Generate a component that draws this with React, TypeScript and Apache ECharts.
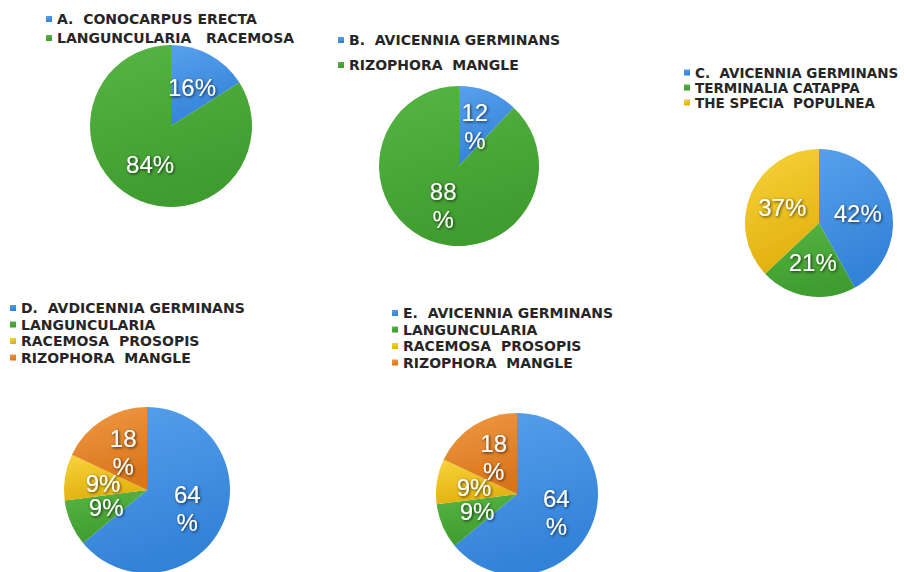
import React, { useEffect, useRef } from "react";
import * as echarts from "echarts";

// ---- data ----
const namesA = ["A.  CONOCARPUS ERECTA", "LANGUNCULARIA   RACEMOSA"];
const valuesA = [16, 84];
const namesB = ["B.  AVICENNIA GERMINANS", "RIZOPHORA  MANGLE"];
const valuesB = [12, 88];
const namesC = ["C.  AVICENNIA GERMINANS", "TERMINALIA CATAPPA", "THE SPECIA  POPULNEA"];
const valuesC = [42, 21, 37];
const namesD = ["D.  AVDICENNIA GERMINANS", "LANGUNCULARIA", "RACEMOSA  PROSOPIS", "RIZOPHORA  MANGLE"];
const valuesD = [64, 9, 9, 18];
const namesE = ["E.  AVICENNIA GERMINANS", "LANGUNCULARIA", "RACEMOSA  PROSOPIS", "RIZOPHORA  MANGLE"];
const valuesE = [64, 9, 9, 18];

// ---- styles ----
const grad = (top: string, bottom: string) =>
  new echarts.graphic.LinearGradient(0, 0, 0.3, 1, [
    { offset: 0, color: top },
    { offset: 1, color: bottom },
  ]);
const BLUE = ["#58a0ec", "#3282d8"];
const GREEN = ["#56b543", "#3f9c2f"];
const YELLOW = ["#f8d43c", "#e2b10f"];
const ORANGE = ["#f09a45", "#d9761c"];

type Panel = {
  names: string[];
  values: number[];
  colors: string[][];
  center: [number, number];
  radius: number;
  legend: { left: number; top: number; fontSize: number; lineHeight: number; itemGap: number };
  wrapTwoDigit: boolean;
};

const panels: Panel[] = [
  {
    names: namesA, values: valuesA, colors: [BLUE, GREEN],
    center: [171, 126], radius: 81,
    legend: { left: 46, top: 10, fontSize: 14, lineHeight: 18, itemGap: 1 },
    wrapTwoDigit: false,
  },
  {
    names: namesB, values: valuesB, colors: [BLUE, GREEN],
    center: [459, 166], radius: 80,
    legend: { left: 338, top: 31, fontSize: 14, lineHeight: 18, itemGap: 7 },
    wrapTwoDigit: true,
  },
  {
    names: namesC, values: valuesC, colors: [BLUE, GREEN, YELLOW],
    center: [819, 223], radius: 74,
    legend: { left: 684, top: 65, fontSize: 13.5, lineHeight: 15, itemGap: 0 },
    wrapTwoDigit: false,
  },
  {
    names: namesD, values: valuesD, colors: [BLUE, GREEN, YELLOW, ORANGE],
    center: [147, 490], radius: 83,
    legend: { left: 10, top: 300, fontSize: 14, lineHeight: 16, itemGap: 0.5 },
    wrapTwoDigit: true,
  },
  {
    names: namesE, values: valuesE, colors: [BLUE, GREEN, YELLOW, ORANGE],
    center: [517, 494], radius: 81,
    legend: { left: 392, top: 305, fontSize: 14, lineHeight: 16, itemGap: 0.5 },
    wrapTwoDigit: true,
  },
];

function buildOption(p: Panel) {
  return {
    animation: false,
    legend: {
      orient: "vertical",
      left: p.legend.left,
      top: p.legend.top,
      icon: "rect",
      itemWidth: 6,
      itemHeight: 6,
      itemGap: p.legend.itemGap,
      padding: 0,
      selectedMode: false,
      data: p.names,
      textStyle: {
        fontFamily: "DejaVu Sans",
        fontWeight: "bold",
        fontSize: p.legend.fontSize,
        lineHeight: p.legend.lineHeight,
        color: "#262626",
      },
    },
    series: [
      {
        type: "pie",
        center: p.center,
        radius: p.radius,
        startAngle: 90,
        clockwise: true,
        silent: true,
        avoidLabelOverlap: false,
        labelLayout: { hideOverlap: false },
        labelLine: { show: false },
        label: {
          show: true,
          position: "inside",
          color: "#ffffff",
          fontFamily: "Liberation Sans, Arial",
          fontSize: 24,
          lineHeight: 28,
          textShadowColor: "rgba(0,0,0,0.75)",
          textShadowBlur: 3,
          textShadowOffsetX: 1,
          textShadowOffsetY: 1,
          formatter: (params: any) => {
            const v = String(params.value);
            return p.wrapTwoDigit && v.length > 1 ? v + "\n%" : v + "%";
          },
        },
        data: p.names.map((n, i) => ({
          name: n,
          value: p.values[i],
          itemStyle: { color: grad(p.colors[i][0], p.colors[i][1]) },
        })),
      },
    ],
  };
}

function PieLayer({ panel }: { panel: Panel }) {
  const ref = useRef<HTMLDivElement>(null);
  useEffect(() => {
    if (!ref.current) return;
    const chart = echarts.init(ref.current, undefined, { renderer: "svg" });
    chart.setOption(buildOption(panel) as any);
    return () => chart.dispose();
  }, [panel]);
  return (
    <div
      ref={ref}
      style={{ position: "absolute", left: 0, top: 0, width: 904, height: 572 }}
    />
  );
}

export default function App() {
  return (
    <div
      style={{
        position: "fixed",
        left: 0,
        top: 0,
        width: 904,
        height: 572,
        background: "#ffffff",
        overflow: "hidden",
      }}
    >
      {panels.map((p, i) => (
        <PieLayer key={i} panel={p} />
      ))}
    </div>
  );
}
